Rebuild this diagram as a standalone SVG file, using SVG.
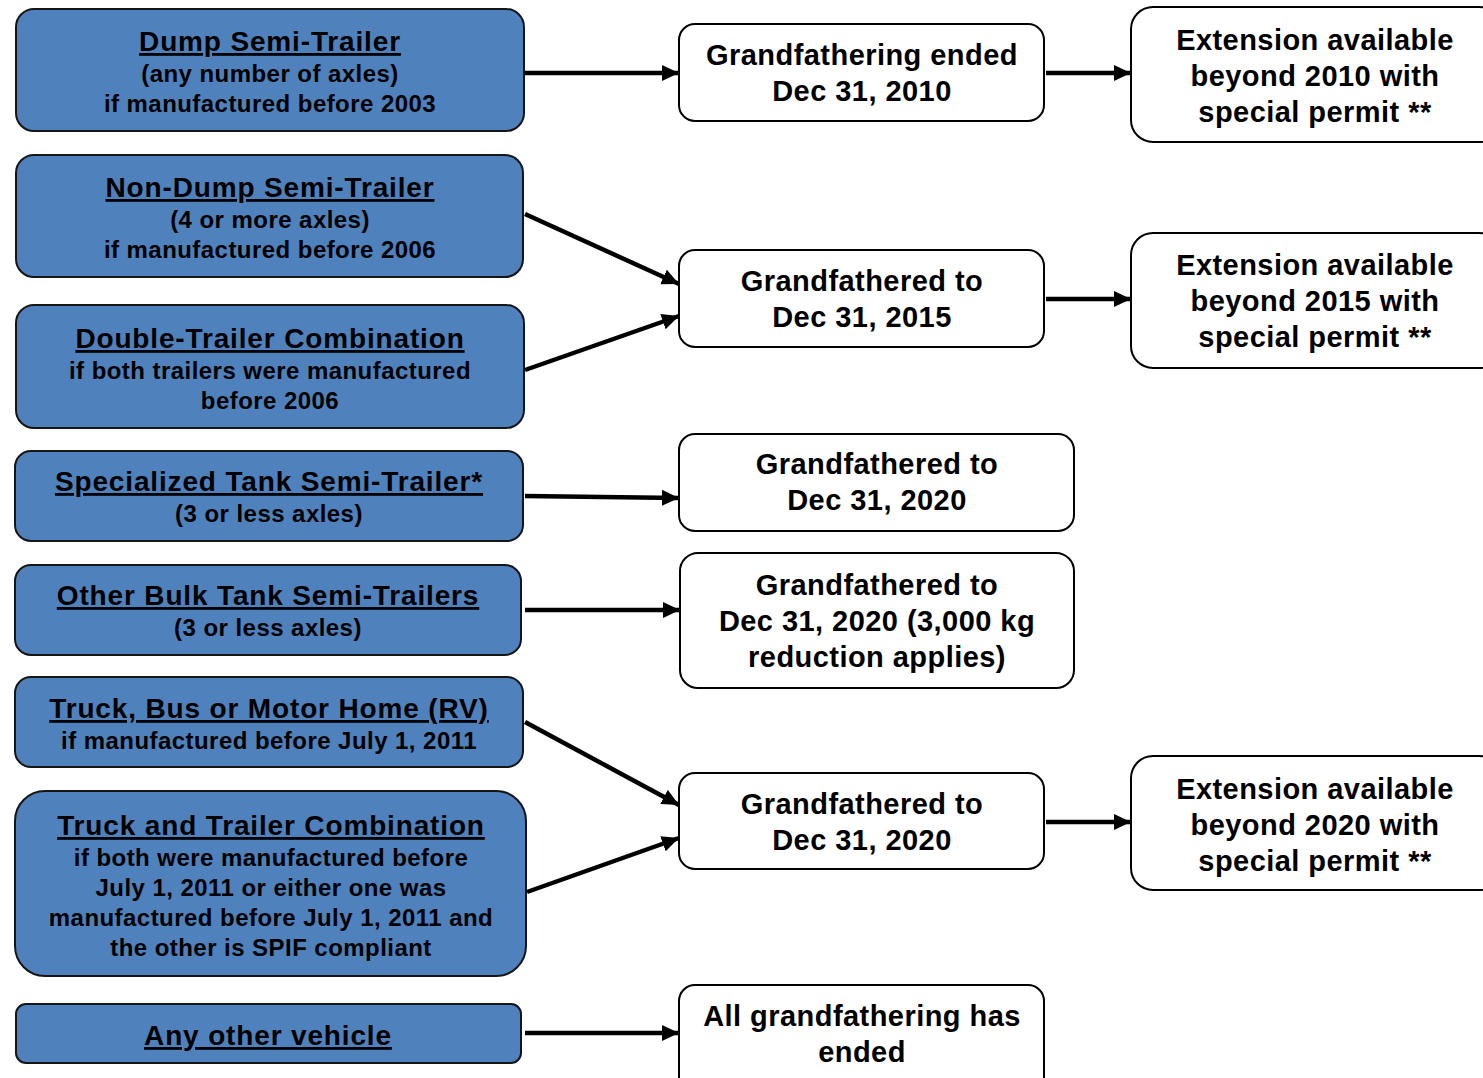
<svg xmlns="http://www.w3.org/2000/svg" width="1483" height="1078" viewBox="0 0 1483 1078">
<defs>
<marker id="ah" markerUnits="userSpaceOnUse" markerWidth="19" markerHeight="17" refX="17" refY="8" orient="auto">
<path d="M0,0 L17,8 L0,16 z" fill="#000"/>
</marker>
<style>
.blue{fill:#4F81BD;stroke:#151515;stroke-width:2}
.wbox{fill:#fff;stroke:#000;stroke-width:2}
text{font-family:"Liberation Sans",Arial,sans-serif;font-weight:bold;fill:#000;text-anchor:middle}
.t{font-size:28px;text-decoration:underline;letter-spacing:0.85px}
.s{font-size:24px;letter-spacing:0.45px}
.m{font-size:29px;letter-spacing:0.45px}
.c line{stroke:#000;stroke-width:4.5;marker-end:url(#ah)}
</style>
</defs>
<rect width="1483" height="1078" fill="#fff"/>

<g id="n1"><rect class="blue" x="16" y="9" width="508" height="122" rx="18"/>
<text class="t" x="270" y="51">Dump Semi-Trailer</text>
<text class="s" x="270" y="82">(any number of axles)</text>
<text class="s" x="270" y="112">if manufactured before 2003</text></g>

<g id="n2"><rect class="blue" x="16" y="155" width="507" height="122" rx="18"/>
<text class="t" x="270" y="197">Non-Dump Semi-Trailer</text>
<text class="s" x="270" y="228">(4 or more axles)</text>
<text class="s" x="270" y="258">if manufactured before 2006</text></g>

<g id="n3"><rect class="blue" x="16" y="305" width="508" height="123" rx="18"/>
<text class="t" x="270" y="348">Double-Trailer Combination</text>
<text class="s" x="270" y="379">if both trailers were manufactured</text>
<text class="s" x="270" y="409">before 2006</text></g>

<g id="n4"><rect class="blue" x="15" y="451" width="508" height="90" rx="16"/>
<text class="t" x="269" y="491">Specialized Tank Semi-Trailer*</text>
<text class="s" x="269" y="522">(3 or less axles)</text></g>

<g id="n5"><rect class="blue" x="15" y="565" width="506" height="90" rx="16"/>
<text class="t" x="268" y="605">Other Bulk Tank Semi-Trailers</text>
<text class="s" x="268" y="636">(3 or less axles)</text></g>

<g id="n6"><rect class="blue" x="15" y="677" width="508" height="90" rx="16"/>
<text class="t" x="269" y="718">Truck, Bus or Motor Home (RV)</text>
<text class="s" x="269" y="749">if manufactured before July 1, 2011</text></g>

<g id="n7"><rect class="blue" x="15" y="791" width="511" height="185" rx="30"/>
<text class="t" x="271" y="835">Truck and Trailer Combination</text>
<text class="s" x="271" y="866">if both were manufactured before</text>
<text class="s" x="271" y="896">July 1, 2011 or either one was</text>
<text class="s" x="271" y="926">manufactured before July 1, 2011 and</text>
<text class="s" x="271" y="956">the other is SPIF compliant</text></g>

<g id="n8"><rect class="blue" x="16" y="1004" width="505" height="59" rx="10"/>
<text class="t" x="268" y="1045">Any other vehicle</text></g>

<g id="m1"><rect class="wbox" x="679" y="24" width="365" height="97" rx="16"/>
<text class="m" x="862" y="65">Grandfathering ended</text>
<text class="m" x="862" y="101">Dec 31, 2010</text></g>

<g id="m2"><rect class="wbox" x="679" y="250" width="365" height="97" rx="16"/>
<text class="m" x="862" y="291">Grandfathered to</text>
<text class="m" x="862" y="327">Dec 31, 2015</text></g>

<g id="m3"><rect class="wbox" x="679" y="434" width="395" height="97" rx="16"/>
<text class="m" x="877" y="474">Grandfathered to</text>
<text class="m" x="877" y="510">Dec 31, 2020</text></g>

<g id="m4"><rect class="wbox" x="680" y="553" width="394" height="135" rx="18"/>
<text class="m" x="877" y="595">Grandfathered to</text>
<text class="m" x="877" y="631">Dec 31, 2020 (3,000 kg</text>
<text class="m" x="877" y="667">reduction applies)</text></g>

<g id="m5"><rect class="wbox" x="679" y="773" width="365" height="96" rx="16"/>
<text class="m" x="862" y="814">Grandfathered to</text>
<text class="m" x="862" y="850">Dec 31, 2020</text></g>

<g id="m6"><rect class="wbox" x="679" y="985" width="365" height="110" rx="16"/>
<text class="m" x="862" y="1026">All grandfathering has</text>
<text class="m" x="862" y="1062">ended</text></g>

<g id="r1"><rect class="wbox" x="1131" y="7" width="370" height="135" rx="22"/>
<text class="m" x="1315" y="50">Extension available</text>
<text class="m" x="1315" y="86">beyond 2010 with</text>
<text class="m" x="1315" y="122">special permit **</text></g>

<g id="r2"><rect class="wbox" x="1131" y="233" width="370" height="135" rx="22"/>
<text class="m" x="1315" y="275">Extension available</text>
<text class="m" x="1315" y="311">beyond 2015 with</text>
<text class="m" x="1315" y="347">special permit **</text></g>

<g id="r3"><rect class="wbox" x="1131" y="756" width="370" height="134" rx="22"/>
<text class="m" x="1315" y="799">Extension available</text>
<text class="m" x="1315" y="835">beyond 2020 with</text>
<text class="m" x="1315" y="871">special permit **</text></g>

<g id="connectors" class="c">
<line x1="525" y1="73" x2="679" y2="73"/>
<line x1="1046" y1="73" x2="1131" y2="73"/>
<line x1="525" y1="214" x2="679" y2="284"/>
<line x1="525" y1="370" x2="679" y2="316"/>
<line x1="525" y1="496" x2="679" y2="498"/>
<line x1="525" y1="610" x2="680" y2="610"/>
<line x1="525" y1="722" x2="679" y2="805"/>
<line x1="527" y1="892" x2="679" y2="838"/>
<line x1="525" y1="1033" x2="679" y2="1033"/>
<line x1="1046" y1="299" x2="1131" y2="299"/>
<line x1="1046" y1="822" x2="1131" y2="822"/>
</g>
</svg>
